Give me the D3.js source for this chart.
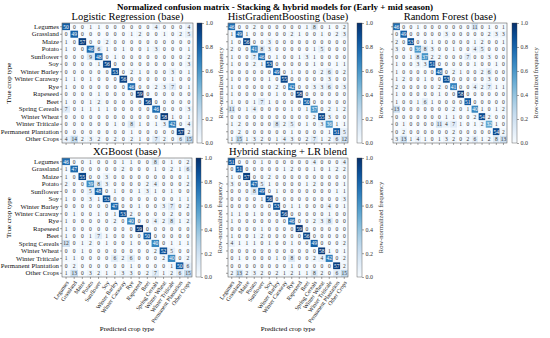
<!DOCTYPE html>
<html>
<head>
<meta charset="utf-8">
<script src="https://cdn.jsdelivr.net/npm/d3@7"></script>
<style>
  body { margin: 0; background: #fff; }
  text { font-family: "Liberation Serif", "DejaVu Serif", serif; }
</style>
</head>
<body>
<div id="chart"></div>
<script>
// Data (counts out of 60 per class)
// ==============================
var classes = ["Legumes", "Grassland", "Maize", "Potato", "Sunflower", "Soy",
  "Winter Barley", "Winter Caraway", "Rye", "Rapeseed", "Beet", "Spring Cereals",
  "Winter Wheat", "Winter Triticale", "Permanent Plantation", "Other Crops"];

var panelTitles = ["Logistic Regression (base)", "HistGradientBoosting (base)",
  "Random Forest (base)", "XGBoost (base)", "Hybrid stacking + LR blend"];

var cbTicks = [0, 0.2, 0.4, 0.6, 0.8, 1.0];

var lrMatrix = [
  [50,0,0,1,1,0,0,0,0,0,0,4,0,0,0,4],
  [0,49,0,0,0,0,0,0,1,2,0,0,1,0,2,5],
  [1,0,57,0,0,2,0,0,0,0,0,0,0,0,0,0],
  [1,0,0,46,6,1,0,1,0,0,1,3,0,0,0,1],
  [0,0,0,9,48,0,1,0,0,0,0,0,0,0,0,2],
  [0,0,0,0,1,56,0,0,0,0,0,0,0,0,0,3],
  [0,0,0,0,0,0,53,0,2,1,0,0,0,3,0,1],
  [1,1,0,1,0,0,0,56,0,0,0,0,0,1,0,0],
  [1,0,0,0,0,0,0,0,46,0,0,2,3,7,0,1],
  [0,0,0,0,1,0,0,0,0,59,0,0,0,0,0,0],
  [1,0,0,1,2,0,0,0,0,0,56,0,0,0,0,0],
  [7,0,1,1,1,1,0,0,0,0,0,46,0,0,0,3],
  [0,0,0,0,0,0,0,0,0,0,0,0,58,1,0,1],
  [0,0,0,0,0,0,1,0,8,1,0,1,3,42,0,4],
  [0,0,0,0,0,0,0,0,1,0,0,0,0,0,57,2],
  [4,14,2,3,2,0,2,0,2,1,0,7,2,0,6,15]
];

var hgbMatrix = [
  [46,0,0,2,0,0,0,0,0,0,1,8,0,1,0,2],
  [1,49,1,0,0,0,0,0,2,1,0,0,1,0,2,3],
  [1,0,56,0,0,3,0,0,0,0,0,0,0,0,0,0],
  [2,0,0,41,8,3,0,0,0,0,0,1,5,0,0,0],
  [1,0,0,7,46,0,1,0,0,1,3,1,0,0,0,0],
  [1,0,0,2,1,53,0,0,0,0,0,1,0,0,1,1],
  [0,0,0,0,0,0,49,0,1,0,0,0,2,6,0,2],
  [1,0,0,0,0,1,0,55,0,0,0,0,0,3,0,0],
  [1,0,0,0,0,0,2,0,42,0,0,3,3,6,0,3],
  [1,0,0,0,0,0,1,0,0,58,0,0,0,0,0,0],
  [1,0,0,1,7,1,0,0,0,0,50,0,0,0,0,0],
  [11,0,1,4,0,0,0,0,1,0,1,37,0,2,1,2],
  [0,0,0,0,0,0,0,0,0,0,0,2,55,3,0,0],
  [1,2,0,0,0,0,8,2,5,0,1,0,3,36,1,1],
  [0,2,0,0,0,0,0,0,1,0,0,0,0,1,51,5],
  [1,15,1,3,2,0,1,4,3,0,2,7,1,2,6,12]
];

var rfMatrix = [
  [46,0,0,1,0,0,0,0,0,0,0,11,0,1,0,1],
  [0,49,0,0,0,0,0,3,0,0,0,0,0,2,3,3],
  [2,0,53,0,0,1,0,0,0,0,0,1,2,0,0,1],
  [3,0,0,36,8,3,0,0,1,0,0,4,5,0,0,0],
  [0,0,1,8,37,2,2,0,0,0,7,0,0,3,0,0],
  [1,0,0,3,3,51,0,0,0,0,0,1,0,0,1,0],
  [1,0,0,0,0,0,48,0,2,1,0,0,2,6,0,0],
  [1,2,0,0,1,0,0,53,0,0,0,0,0,3,0,0],
  [2,0,0,0,0,0,2,0,41,0,0,4,2,7,1,1],
  [1,0,0,0,0,0,1,0,0,58,0,0,0,0,0,0],
  [1,0,0,1,6,1,0,0,0,0,51,0,0,0,0,0],
  [13,0,0,0,0,0,0,0,2,0,1,40,1,0,1,2],
  [0,0,0,0,0,0,0,1,1,0,0,2,54,2,0,0],
  [0,1,0,0,0,0,11,4,7,1,0,1,2,32,1,0],
  [0,2,0,0,0,0,0,0,2,0,0,0,0,0,54,2],
  [3,13,1,4,1,0,1,3,2,0,2,6,1,2,8,13]
];

var xgbMatrix = [
  [46,0,0,1,0,0,0,1,1,0,0,8,0,1,0,2],
  [1,47,0,0,0,0,0,2,0,0,0,1,0,2,1,6],
  [1,0,55,0,0,3,0,0,0,0,0,0,0,0,0,1],
  [2,0,0,39,8,3,0,0,0,0,2,4,0,0,0,2],
  [0,0,0,5,48,0,1,0,0,1,3,1,0,1,0,0],
  [1,0,0,3,1,53,0,0,0,0,0,0,0,0,1,1],
  [0,0,0,0,0,0,47,0,0,1,0,0,3,7,0,2],
  [0,1,0,0,1,0,1,53,2,0,0,0,0,2,0,0],
  [1,0,0,0,0,0,2,0,40,0,0,4,2,8,1,2],
  [1,0,0,0,0,0,0,0,0,59,0,0,0,0,0,0],
  [1,0,0,1,7,1,0,0,0,0,50,0,0,0,0,0],
  [12,0,1,2,0,1,0,0,1,0,0,40,0,1,1,1],
  [0,0,1,0,0,0,0,0,0,0,0,2,52,5,0,0],
  [1,1,0,0,0,0,6,2,6,0,0,0,2,40,0,2],
  [0,2,0,0,0,0,0,0,1,0,0,0,0,1,50,6],
  [1,13,0,3,2,1,1,3,3,0,2,7,1,2,6,15]
];

var hybridMatrix = [
  [51,0,0,0,1,0,0,0,0,0,0,4,0,0,0,4],
  [0,51,0,0,0,0,0,1,2,0,0,1,0,1,2,2],
  [1,0,57,0,0,2,0,0,0,0,0,0,0,0,0,0],
  [3,0,0,47,5,1,0,0,0,0,1,2,0,0,0,1],
  [0,0,0,8,49,0,1,0,0,0,0,0,0,0,1,1],
  [0,0,0,0,1,56,0,0,0,0,0,0,0,0,0,3],
  [0,0,0,0,0,0,53,0,1,1,0,0,0,4,0,1],
  [1,1,0,1,0,0,0,56,0,0,0,0,0,1,0,0],
  [1,0,0,0,0,0,0,0,46,0,0,2,3,8,0,0],
  [0,0,0,0,1,0,0,0,0,59,0,0,0,0,0,0],
  [1,0,0,1,2,0,0,0,0,0,56,0,0,0,0,0],
  [4,1,1,1,0,1,0,0,1,0,0,49,0,0,0,2],
  [0,0,0,0,0,0,0,0,0,0,0,0,58,1,0,1],
  [0,1,0,0,0,0,1,0,8,0,0,2,4,42,0,2],
  [0,0,0,0,0,0,0,0,1,0,0,0,0,0,57,2],
  [2,13,2,3,2,0,2,1,2,1,1,8,2,0,6,15]
];

// Panel layout
// ==============================
var panels = [
  {m: lrMatrix,     x0: 62,  x1: 193, y0: 23,  y1: 143, cb: 197, yLabels: true,  xLabels: false},
  {m: hgbMatrix,    x0: 228, x1: 348, y0: 23,  y1: 143, cb: 357, yLabels: false, xLabels: false},
  {m: rfMatrix,     x0: 393, x1: 507, y0: 23,  y1: 143, cb: 512, yLabels: false, xLabels: false},
  {m: xgbMatrix,    x0: 62,  x1: 192, y0: 158, y1: 277, cb: 196, yLabels: true,  xLabels: true},
  {m: hybridMatrix, x0: 228, x1: 348, y0: 158, y1: 277, cb: 357, yLabels: false, xLabels: true}
];

var svg = d3.select("#chart").append("svg")
  .attr("width", 550)
  .attr("height", 338);

svg.append("text")
  .attr("x", 275)
  .attr("y", 10)
  .attr("text-anchor", "middle")
  .attr("font-weight", "bold")
  .attr("font-size", 9)
  .text("Normalized confusion matrix - Stacking & hybrid models for (Early + mid season)");

// gradient for colorbars
var defs = svg.append("defs");
var grad = defs.append("linearGradient")
  .attr("id", "blues")
  .attr("x1", 0).attr("y1", 1).attr("x2", 0).attr("y2", 0);
d3.range(0, 1.0001, 0.05).forEach(function(t) {
  grad.append("stop")
    .attr("offset", t)
    .attr("stop-color", d3.interpolateBlues(t));
});

panels.forEach(function(p, pi) {
  var g = svg.append("g");

  var xScale = d3.scaleBand().domain(d3.range(classes.length)).range([p.x0, p.x1]);
  var yScale = d3.scaleBand().domain(d3.range(classes.length)).range([p.y0, p.y1]);

  var cells = [];
  p.m.forEach(function(row, i) {
    var total = d3.sum(row);
    row.forEach(function(v, j) {
      cells.push({i: i, j: j, v: v, f: v / total});
    });
  });

  g.selectAll("rect.cell")
    .data(cells)
    .enter().append("rect")
    .attr("class", "cell")
    .attr("x", d => xScale(d.j))
    .attr("y", d => yScale(d.i))
    .attr("width", xScale.bandwidth())
    .attr("height", yScale.bandwidth())
    .attr("fill", d => d3.interpolateBlues(d.f))
    .attr("stroke", "#fff")
    .attr("stroke-width", 0.3);

  g.selectAll("text.val")
    .data(cells)
    .enter().append("text")
    .attr("class", "val")
    .attr("x", d => xScale(d.j) + xScale.bandwidth() / 2)
    .attr("y", d => yScale(d.i) + yScale.bandwidth() / 2)
    .attr("dy", "0.35em")
    .attr("text-anchor", "middle")
    .attr("font-size", 5.5)
    .attr("fill", d => d.f > 0.5 ? "#fff" : "#333")
    .text(d => d.v);

  g.append("rect")
    .attr("x", p.x0).attr("y", p.y0)
    .attr("width", p.x1 - p.x0).attr("height", p.y1 - p.y0)
    .attr("fill", "none")
    .attr("stroke", "#444")
    .attr("stroke-width", 0.5);

  // title
  g.append("text")
    .attr("x", (p.x0 + p.x1) / 2)
    .attr("y", p.y0 - 3)
    .attr("text-anchor", "middle")
    .attr("font-size", 10.5)
    .text(panelTitles[pi]);

  // axes
  var yAxis = d3.axisLeft(yScale).tickSize(2).tickPadding(1)
    .tickFormat(p.yLabels ? (i => classes[i]) : (() => ""));
  var ya = g.append("g")
    .attr("transform", `translate(${p.x0},0)`)
    .call(yAxis);
  ya.select(".domain").remove();
  ya.selectAll("line").attr("stroke", "#444").attr("stroke-width", 0.5);
  ya.selectAll("text").attr("font-size", 6.8).attr("fill", "#111")
    .style("font-family", "Liberation Serif");

  var xAxis = d3.axisBottom(xScale).tickSize(2).tickPadding(1)
    .tickFormat(p.xLabels ? (i => classes[i]) : (() => ""));
  var xa = g.append("g")
    .attr("transform", `translate(0,${p.y1})`)
    .call(xAxis);
  xa.select(".domain").remove();
  xa.selectAll("line").attr("stroke", "#444").attr("stroke-width", 0.5);
  xa.selectAll("text")
    .attr("font-size", 5.8).attr("fill", "#111")
    .style("font-family", "Liberation Serif")
    .attr("text-anchor", "end")
    .attr("dy", "0.3em")
    .attr("transform", "translate(-1,3) rotate(-55)");

  if (p.yLabels) {
    g.append("text")
      .attr("transform", `translate(11,${(p.y0 + p.y1) / 2}) rotate(-90)`)
      .attr("text-anchor", "middle")
      .attr("font-size", 7)
      .text("True crop type");
  }
  if (p.xLabels) {
    g.append("text")
      .attr("x", (p.x0 + p.x1) / 2)
      .attr("y", 331)
      .attr("text-anchor", "middle")
      .attr("font-size", 7)
      .text("Predicted crop type");
  }

  // colorbar
  var cbW = 5;
  g.append("rect")
    .attr("x", p.cb).attr("y", p.y0)
    .attr("width", cbW).attr("height", p.y1 - p.y0)
    .attr("fill", "url(#blues)")
    .attr("stroke", "#444")
    .attr("stroke-width", 0.4);

  var cScale = d3.scaleLinear().domain([0, 1]).range([p.y1, p.y0]);
  var ca = g.append("g")
    .attr("transform", `translate(${p.cb + cbW},0)`)
    .call(d3.axisRight(cScale).tickValues(cbTicks).tickSize(2).tickPadding(1.5)
      .tickFormat(d3.format(".1f")));
  ca.select(".domain").remove();
  ca.selectAll("line").attr("stroke", "#444").attr("stroke-width", 0.5);
  ca.selectAll("text").attr("font-size", 6).attr("fill", "#333")
    .style("font-family", "Liberation Serif");

  g.append("text")
    .attr("transform", `translate(${p.cb + cbW + 21},${(p.y0 + p.y1) / 2}) rotate(-90)`)
    .attr("text-anchor", "middle")
    .attr("font-size", 6.5)
    .attr("fill", "#333")
    .text("Row-normalized frequency");
});
</script>
</body>
</html>
